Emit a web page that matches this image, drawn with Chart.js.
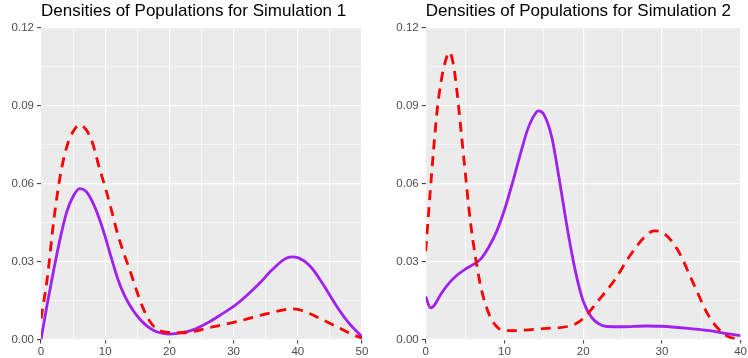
<!DOCTYPE html>
<html>
<head>
<meta charset="utf-8">
<script src="https://cdn.jsdelivr.net/npm/chart.js@4"></script>
<style>
  body { margin: 0; background: #fff; }
  #wrap { display: flex; width: 748px; height: 358px; }
  canvas { display: block; }
</style>
</head>
<body>
<div id="wrap">
  <canvas id="sim1" width="374" height="358"></canvas>
  <canvas id="sim2" width="374" height="358"></canvas>
</div>
<script>
// Simulation 1: density estimates on 0..50
const sim1X = [0, 1, 2, 3, 4, 5, 6, 7, 8, 9, 10, 11, 12, 13, 14, 15, 16, 17, 18, 19, 20,
    22, 24, 26, 28, 30, 32, 34, 36, 38, 39, 40, 42, 44, 46, 48, 50];
const sim1Solid = [0, 0.014, 0.027, 0.039, 0.049, 0.055, 0.058, 0.057, 0.053, 0.047, 0.0395,
    0.031, 0.023, 0.017, 0.0125, 0.009, 0.0063, 0.0043, 0.003, 0.0024, 0.0021,
    0.0026, 0.004, 0.0065, 0.0095, 0.0127, 0.0168, 0.0215, 0.0268, 0.031, 0.0318, 0.0315,
    0.028, 0.021, 0.013, 0.0062, 0.0011];
const sim1Dashed = [0.008, 0.024, 0.046, 0.063, 0.074, 0.080, 0.0825, 0.0808, 0.0758, 0.0668, 0.0585,
    0.0495, 0.040, 0.0325, 0.0255, 0.018, 0.0115, 0.0068, 0.004, 0.003, 0.0027,
    0.0026, 0.0032, 0.0045, 0.0055, 0.0066, 0.0078, 0.0092, 0.0104, 0.0115, 0.0118, 0.0116,
    0.0098, 0.0074, 0.005, 0.0025, 0.0005];

// Simulation 2: density estimates on 0..40
const sim2SolidX = [0, 0.6, 1, 2, 3, 4, 5, 6, 7, 8, 9, 10, 11, 12, 13, 14, 14.3, 15, 16, 17, 18,
    19, 20, 21, 22, 23, 25, 28, 30, 33, 36, 38, 40];
const sim2Solid = [0.0165, 0.0122, 0.0128, 0.0178, 0.0218, 0.0248, 0.027, 0.0288, 0.031, 0.0355,
    0.0415, 0.0498, 0.060, 0.071, 0.0812, 0.0872, 0.0879, 0.0866, 0.078, 0.061, 0.0425,
    0.0265, 0.0148, 0.0088, 0.006, 0.005, 0.0049, 0.0052, 0.0051, 0.0044, 0.0034, 0.0024, 0.0015];
const sim2DashedX = [0, 0.5, 1, 1.5, 2, 2.5, 3, 3.5, 4, 4.5, 5, 5.5, 6, 7, 8, 9, 10, 12, 15, 18,
    19, 20, 22, 24, 26, 28, 29, 30, 32, 34, 36, 38, 39, 40];
const sim2Dashed = [0.034, 0.054, 0.073, 0.0895, 0.1, 0.107, 0.1105, 0.106, 0.0947, 0.080, 0.065,
    0.050, 0.038, 0.0203, 0.0101, 0.005, 0.0034, 0.0035, 0.0042, 0.005,
    0.006, 0.008, 0.0152, 0.0229, 0.0325, 0.040, 0.0418, 0.0413, 0.0345, 0.0216, 0.0088, 0.0018,
    0.0005, 0];

// axis ticks: gridlines every half step, labels on the full steps
const yTicks = [0, 0.015, 0.03, 0.045, 0.06, 0.075, 0.09, 0.105, 0.12];
const yLabels = ['0.00', '', '0.03', '', '0.06', '', '0.09', '', '0.12'];
const sim1XTicks = [0, 5, 10, 15, 20, 25, 30, 35, 40, 45, 50];
const sim2XTicks = [0, 5, 10, 15, 20, 25, 30, 35, 40];

const PANEL_BG = '#EBEBEB';
const TICK_GREY = '#333333';
const TEXT_GREY = '#4D4D4D';
const FONT = 'Liberation Sans, Arial, sans-serif';

const panelBg = {
    id: 'panelBg',
    beforeDraw(chart) {
        const { ctx, chartArea: a } = chart;
        ctx.save();
        ctx.fillStyle = PANEL_BG;
        ctx.fillRect(a.left, a.top, a.right - a.left, a.bottom - a.top);
        ctx.restore();
    },
};

function pts(xs, ys) {
    return xs.map((x, i) => ({ x, y: ys[i] }));
}

function gridFor(isMajor) {
    return {
        color: '#FFFFFF',
        lineWidth: ctx => (isMajor(ctx) ? 1.2 : 0.6),
        tickColor: ctx => (isMajor(ctx) ? TICK_GREY : 'rgba(0,0,0,0)'),
        tickLength: 4,
        tickWidth: 1,
        drawTicks: true,
    };
}

function makePanel(id, title, xMax, xTicks, solid, dashed, padLeft, padRight) {
    const xMajor = ctx => ctx.tick && ctx.tick.value % 10 === 0;
    const yMajor = ctx => ctx.index % 2 === 0;
    return new Chart(document.getElementById(id), {
        type: 'line',
        data: {
            datasets: [
                {
                    data: dashed, borderColor: '#FF0000', borderWidth: 2.8,
                    borderDash: [10, 7], pointRadius: 0, cubicInterpolationMode: 'monotone',
                },
                {
                    data: solid, borderColor: '#A020F0', borderWidth: 2.8,
                    pointRadius: 0, cubicInterpolationMode: 'monotone',
                },
            ],
        },
        options: {
            responsive: false, animation: false,
            layout: { padding: { left: padLeft, right: padRight, top: 0, bottom: 0 } },
            plugins: {
                legend: { display: false },
                tooltip: { enabled: false },
                title: {
                    display: true, text: title, align: 'start', fullSize: false,
                    color: '#000000',
                    font: { family: FONT, size: 17, weight: 'normal', lineHeight: 1.2 },
                    padding: { top: 1, bottom: 6.1 },
                },
            },
            scales: {
                x: {
                    type: 'linear', min: 0, max: xMax,
                    afterBuildTicks: s => { s.ticks = xTicks.map(v => ({ value: v })); },
                    afterFit: s => { s.height = 18.5; },
                    border: { display: false },
                    grid: gridFor(xMajor),
                    ticks: {
                        autoSkip: false, maxRotation: 0, padding: 1, color: TEXT_GREY,
                        font: { family: FONT, size: 11.5 },
                        callback: v => (v % 10 === 0 ? String(v) : ''),
                    },
                },
                y: {
                    min: 0, max: 0.12,
                    afterBuildTicks: s => { s.ticks = yTicks.map(v => ({ value: v })); },
                    afterFit: s => { s.width = 41; },
                    border: { display: false },
                    grid: gridFor(yMajor),
                    ticks: {
                        autoSkip: false, padding: 3, color: TEXT_GREY,
                        font: { family: FONT, size: 11.5 },
                        callback: (v, i) => yLabels[i],
                    },
                },
            },
        },
        plugins: [panelBg],
    });
}

makePanel('sim1', 'Densities of Populations for Simulation 1', 50, sim1XTicks,
    pts(sim1X, sim1Solid), pts(sim1X, sim1Dashed), 0, 12);
makePanel('sim2', 'Densities of Populations for Simulation 2', 40, sim2XTicks,
    pts(sim2SolidX, sim2Solid), pts(sim2DashedX, sim2Dashed), 10.7, 0);
</script>
</body>
</html>
